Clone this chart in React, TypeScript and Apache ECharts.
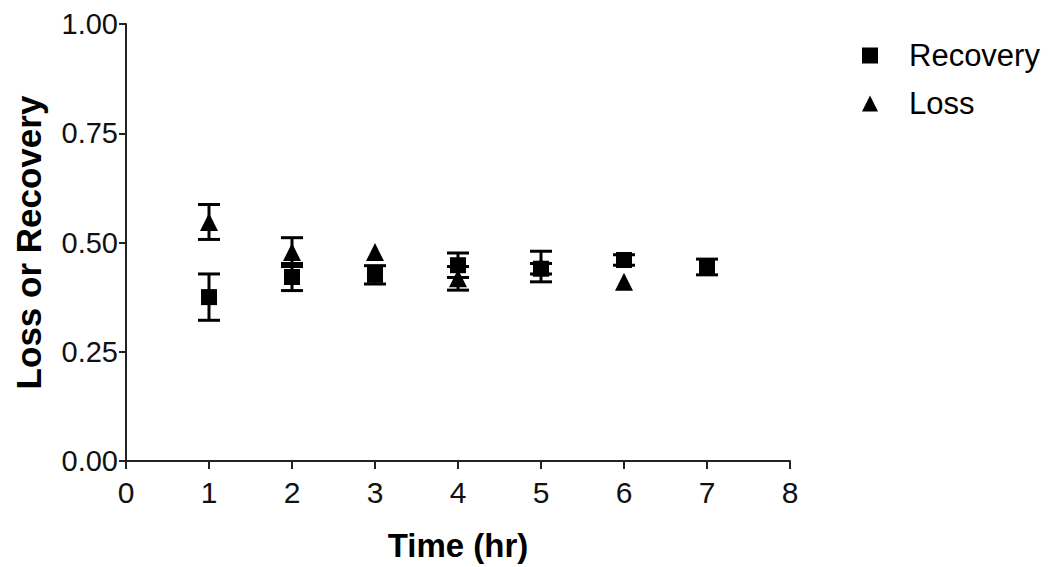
import React, { useEffect, useRef } from "react";
import * as echarts from "echarts";

const times = [1, 2, 3, 4, 5, 6, 7];
const recoveryMean = [0.375, 0.421, 0.426, 0.448, 0.44, 0.46, 0.444];
const recoveryErr = [0.053, 0.031, 0.021, 0.028, 0.012, 0.012, 0.018];
const lossTimes = [1, 2, 3, 4, 5, 6];
const lossMean = [0.547, 0.478, 0.478, 0.418, 0.445, 0.41];
const lossErr = [0.04, 0.033, 0, 0.027, 0.035, 0];
const xTicks = [0, 1, 2, 3, 4, 5, 6, 7, 8];
const yTicks = [0, 0.25, 0.5, 0.75, 1.0];

const FONT = "Liberation Sans, Arial, sans-serif";

function errorSeries(name: string, xs: number[], means: number[], errs: number[]) {
  return {
    name: name + " err",
    type: "custom",
    silent: true,
    data: xs
      .map((x, i) => [x, means[i] - errs[i], means[i] + errs[i], errs[i]])
      .filter((d) => d[3] > 0),
    encode: { x: 0, y: [1, 2] },
    z: 3,
    renderItem: (params: any, api: any) => {
      const x = api.value(0);
      const lo = api.coord([x, api.value(1)]);
      const hi = api.coord([x, api.value(2)]);
      const hw = 11;
      const style = { stroke: "#000", lineWidth: 3 };
      return {
        type: "group",
        children: [
          { type: "line", shape: { x1: lo[0], y1: lo[1], x2: hi[0], y2: hi[1] }, style },
          { type: "line", shape: { x1: lo[0] - hw, y1: lo[1], x2: lo[0] + hw, y2: lo[1] }, style },
          { type: "line", shape: { x1: hi[0] - hw, y1: hi[1], x2: hi[0] + hw, y2: hi[1] }, style },
        ],
      };
    },
  };
}

export default function App() {
  const ref = useRef<HTMLDivElement>(null);
  useEffect(() => {
    if (!ref.current) return;
    const chart = echarts.init(ref.current, null, { renderer: "svg" });
    chart.setOption({
      animation: false,
      backgroundColor: "#fff",
      grid: { left: 126, top: 24, right: 269, bottom: 106, containLabel: false },
      legend: {
        orient: "vertical",
        left: 857,
        top: 35,
        itemGap: 17,
        itemWidth: 16,
        itemHeight: 16,
        data: [
          { name: "Recovery", icon: "rect", itemStyle: { color: "#000", opacity: 1 } },
          { name: "Loss", icon: "triangle", itemStyle: { color: "#000", opacity: 1 } },
        ],
        textStyle: { fontFamily: FONT, fontSize: 31, color: "#000", padding: [0, 0, 0, 26] },
      },
      xAxis: {
        type: "value",
        min: 0,
        max: 8,
        interval: 1,
        name: "Time (hr)",
        nameLocation: "middle",
        nameGap: 68,
        nameTextStyle: { fontFamily: FONT, fontSize: 33, fontWeight: "bold", color: "#000" },
        axisLine: { onZero: false, lineStyle: { color: "#222", width: 2 } },
        axisTick: { show: true, length: 8, lineStyle: { color: "#222", width: 2 } },
        axisLabel: { fontFamily: FONT, fontSize: 30, color: "#111", margin: 16, formatter: (v: number) => String(v) },
        splitLine: { show: false },
      },
      yAxis: {
        type: "value",
        min: 0,
        max: 1,
        interval: 0.25,
        name: "Loss or Recovery",
        nameLocation: "middle",
        nameGap: 80,
        nameTextStyle: { fontFamily: FONT, fontSize: 35, fontWeight: "bold", color: "#000" },
        axisLine: { show: true, lineStyle: { color: "#222", width: 2 } },
        axisTick: { show: true, length: 7, lineStyle: { color: "#222", width: 2 } },
        axisLabel: { fontFamily: FONT, fontSize: 29, color: "#111", margin: 8, formatter: (v: number) => v.toFixed(2) },
        splitLine: { show: false },
      },
      series: [
        errorSeries("Recovery", times, recoveryMean, recoveryErr),
        errorSeries("Loss", lossTimes, lossMean, lossErr),
        {
          name: "Recovery",
          type: "scatter",
          symbol: "rect",
          symbolSize: 16,
          itemStyle: { color: "#000", opacity: 1 },
          data: times.map((t, i) => [t, recoveryMean[i]]),
          z: 4,
        },
        {
          name: "Loss",
          type: "scatter",
          symbol: "triangle",
          symbolSize: 18,
          itemStyle: { color: "#000", opacity: 1 },
          data: lossTimes.map((t, i) => [t, lossMean[i]]),
          z: 4,
        },
      ],
    });
    return () => chart.dispose();
  }, []);
  return <div ref={ref} style={{ width: 1059, height: 567, position: "absolute", left: 0, top: 0 }} />;
}
